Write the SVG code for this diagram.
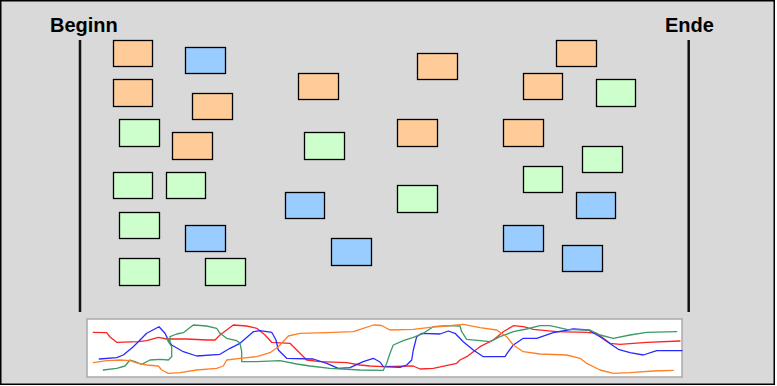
<svg xmlns="http://www.w3.org/2000/svg" width="777" height="386" viewBox="0 0 777 386">
<style>
.o{fill:#ffcc99;stroke:#000;stroke-width:1.3}
.b{fill:#99ccff;stroke:#000;stroke-width:1.3}
.g{fill:#ccffcc;stroke:#000;stroke-width:1.3}
.lbl{font-family:"Liberation Sans",Arial,sans-serif;font-weight:bold;font-size:20px;fill:#000}
.bar{stroke:#111;stroke-width:2.5}
.c{fill:none;stroke-width:1.3;stroke-linejoin:round;stroke-linecap:round}
</style>
<rect x="0.75" y="0.75" width="773.5" height="383.5" fill="#d9d9d9" stroke="#000" stroke-width="1.5"/>
<g id="beginn"><text class="lbl" x="50" y="32">Beginn</text><line class="bar" x1="80" y1="40" x2="80" y2="312"/></g>
<g id="ende"><text class="lbl" x="665" y="32">Ende</text><line class="bar" x1="688.7" y1="40" x2="688.7" y2="312"/></g>
<g id="n1"><rect class="o" x="113.5" y="40.5" width="39" height="26"/></g>
<g id="n2"><rect class="b" x="185.5" y="47.5" width="40" height="26"/></g>
<g id="n3"><rect class="o" x="113.5" y="79.5" width="39" height="27"/></g>
<g id="n4"><rect class="o" x="192.5" y="93.5" width="40" height="26"/></g>
<g id="n5"><rect class="g" x="119.5" y="119.5" width="40" height="27"/></g>
<g id="n6"><rect class="o" x="172.5" y="132.5" width="40" height="27"/></g>
<g id="n7"><rect class="g" x="113.5" y="172.5" width="39" height="26"/></g>
<g id="n8"><rect class="g" x="166.5" y="172.5" width="39" height="26"/></g>
<g id="n9"><rect class="g" x="119.5" y="212.5" width="40" height="26"/></g>
<g id="n10"><rect class="b" x="185.5" y="225.5" width="40" height="26"/></g>
<g id="n11"><rect class="g" x="119.5" y="258.5" width="40" height="27"/></g>
<g id="n12"><rect class="g" x="205.5" y="258.5" width="40" height="27"/></g>
<g id="n13"><rect class="o" x="298.5" y="73.5" width="40" height="26"/></g>
<g id="n14"><rect class="o" x="417.5" y="53.5" width="40" height="26"/></g>
<g id="n15"><rect class="g" x="304.5" y="132.5" width="40" height="27"/></g>
<g id="n16"><rect class="o" x="397.5" y="119.5" width="40" height="27"/></g>
<g id="n17"><rect class="o" x="503.5" y="119.5" width="40" height="27"/></g>
<g id="n18"><rect class="b" x="285.5" y="192.5" width="39" height="26"/></g>
<g id="n19"><rect class="g" x="397.5" y="185.5" width="40" height="27"/></g>
<g id="n20"><rect class="b" x="331.5" y="238.5" width="40" height="27"/></g>
<g id="n21"><rect class="b" x="503.5" y="225.5" width="40" height="26"/></g>
<g id="n22"><rect class="o" x="556.5" y="40.5" width="40" height="26"/></g>
<g id="n23"><rect class="o" x="523.5" y="73.5" width="39" height="26"/></g>
<g id="n24"><rect class="g" x="596.5" y="79.5" width="39" height="27"/></g>
<g id="n25"><rect class="g" x="582.5" y="146.5" width="40" height="26"/></g>
<g id="n26"><rect class="g" x="523.5" y="166.5" width="39" height="26"/></g>
<g id="n27"><rect class="b" x="576.5" y="192.5" width="39" height="26"/></g>
<g id="n28"><rect class="b" x="562.5" y="245.5" width="40" height="26"/></g>
<g id="connectors">
<rect x="87" y="319" width="595" height="58" fill="#fff" stroke="#aaa" stroke-width="1.5"/>
<polyline class="c" stroke="#ff2222" points="93.3,332.3 106.7,332.7 110,337 116.7,342.3 138.3,341.7 146.7,340.7 158.3,337.3 166.7,339 186.7,339 206.7,340 215,340 220,335 233.3,325 246.7,326 256.7,328.3 265,335 271.7,342.3 290,343.3 300,353.3 306.7,360 320,361.7 346.7,362.7 360,365 370,366 383.3,366.7 413.3,366 420,369 433.3,368.3 456.7,363.3 460,360 466.7,356.7 480,346.7 493.3,340 503.3,331.7 513.3,325.7 523.3,326.7 533.3,329.3 556.7,331.7 586.7,332.3 596.7,333.3 610,343.3 620,344.3 646.7,342.3 680,341"/>
<polyline class="c" stroke="#2a2aff" points="99.3,359 116.7,357.7 123.3,355 133.3,346.7 146.7,333.3 159,326.7 165,333.3 168.3,340 171.7,345 183.3,351.7 196.7,356 220,354.3 230,348.3 240,343.3 253.3,331.7 260,330.7 271.7,332.3 276,340 278.3,350 286.7,358.3 313.3,359 326.7,363.3 338.3,368.3 350,367.7 363.3,361.7 373.3,358.3 380,362 383.3,366.7 400,367.3 406.7,365 411.7,360 413.3,350 416.7,336.7 421.7,333.3 440,334 448.3,331 455,333.3 463.3,341.7 473.3,350 483.3,356.7 505,356.7 508.3,351.7 513.3,345 523.3,338.3 536.7,338.3 553.3,332.7 573.3,329 588.3,330 600,336.7 618.3,349.3 630,352.7 643.3,355 656.7,350.7 682,350.7"/>
<polyline class="c" stroke="#3c9a64" points="103.3,370 116.7,368.3 125,366 130,360 135,361.7 141.7,364.3 150,360 160,359.3 168.3,360 171.7,356.7 171.7,346.7 168.3,341.7 167,338 170,342 170,336.7 176.7,334 183.3,332.7 193.3,325 206.7,326 216.7,328.3 220,333.3 226.7,338.3 236.7,340.7 240,343.3 241.7,351.7 241.7,361.7 256.7,361.7 280,360.7 296.7,364 310,366 330,368.3 360,370 383.3,370.3 386.7,363.3 390,353.3 393.3,345 403.3,340.7 413.3,337.3 423.3,333.3 433.3,326.7 446.7,325.7 460,326 461.7,331.7 466.7,339.3 480,340.7 490,341.7 500,336.7 513.3,331.7 526.7,329 540,325.7 550,325.7 566.7,329.3 590,330 600,335 613.3,338.3 630,335 646.7,332.3 676.7,331.7"/>
<polyline class="c" stroke="#ff8026" points="93.3,362.7 106.7,360.7 120,360 130,360.7 138.3,363.3 146.7,365 158.3,366 161.7,370 168.3,373.3 180,372.7 196.7,370 216.7,368.3 223.3,366 226.7,360 240,358.3 256.7,356.7 270,352.7 278.3,346.7 288.3,336 300,333.3 326.7,332.7 353.3,331.7 363.3,328.3 373.3,325 381.7,325.5 386.7,328.3 390,330 413.3,329.3 430,327.3 446.7,326 463.3,324.3 480,327.7 496.7,330 506.7,336.7 513.3,345 523.3,351.7 540,354 566.7,355 580,358.3 586.7,363.3 600,370 613.3,373.3 630,372.7 653.3,371 673.3,370.3"/>
</g>
</svg>
